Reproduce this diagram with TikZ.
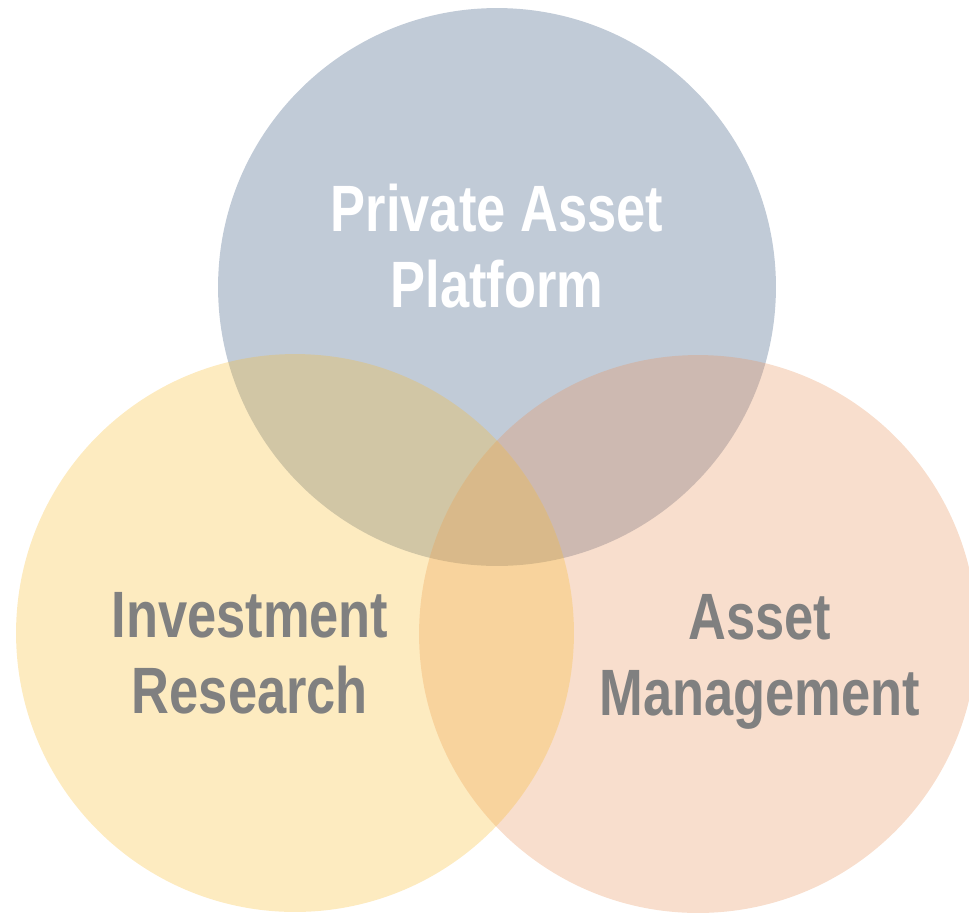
\documentclass[tikz,border=0pt]{standalone}
\usepackage{fontspec}
\newfontfamily\vennfont{Liberation Sans}[FakeStretch=0.8]
\definecolor{platformblue}{HTML}{8497B0}
\definecolor{researchgold}{HTML}{F8BC30}
\definecolor{assetorange}{HTML}{E89158}
\definecolor{labelgray}{HTML}{808080}
\begin{document}
\begin{tikzpicture}[x=0.02cm,y=-0.02cm]
	\tikzset{venn/.style = {shape=circle, draw=none, minimum size=11.16cm, inner sep=0pt, outer sep=0pt}}
	\tikzset{vennlabel/.style = {anchor=base, align=center, inner sep=0pt, font=\vennfont\bfseries\fontsize{37.3}{42.7}\selectfont}}
	\useasboundingbox (0,0) rectangle (969,913);
	% Draw the three sets
	\node[venn, fill=platformblue, fill opacity=.5] (platform) at (497,287) {};
	\node[venn, fill=assetorange, fill opacity=.3] (asset) at (698,634) {};
	\node[venn, fill=researchgold, fill opacity=.3] (research) at (295,633) {};
	% Labels
	\node[vennlabel, text=white] (platformtext) at (497,307) {Private Asset\\Platform};
	\node[vennlabel, text=labelgray] (researchtext) at (250,713) {Investment\\Research};
	\node[vennlabel, text=labelgray] (assettext) at (760,715) {Asset\\Management};
\end{tikzpicture}
\end{document}
